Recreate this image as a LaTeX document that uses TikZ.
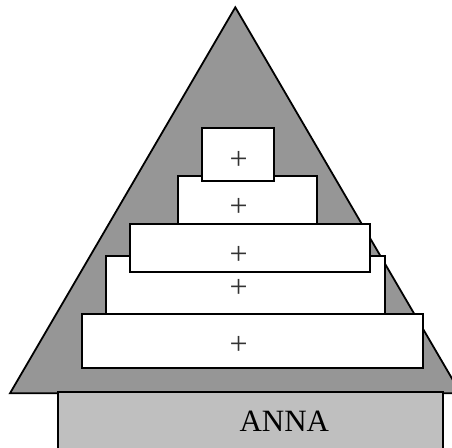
\documentclass[tikz,border=0pt]{standalone}
\usepackage{fontspec}
\setmainfont{Liberation Serif}
\begin{document}
\begin{tikzpicture}[x=1pt,y=-1pt,
  level/.style={draw=black,line width=1.8pt,fill=white,inner sep=0pt,rectangle},
  plussign/.style={inner sep=0pt,font=\fontsize{32}{32}\selectfont,text=black!80},
  roof/.style={draw=black,line width=1.8pt,fill=black!41},
  base/.style={draw=black,line width=1.8pt,fill=black!25}]
\useasboundingbox (0,0) rectangle (452,447);
\clip (0,0) rectangle (452,447);
\coordinate (apex) at (235.3,7.3);
\coordinate (bl) at (10,393.3);
\coordinate (br) at (460.6,393.3);
\draw[roof] (apex) -- (bl) -- (br) -- cycle;
\draw[base] (57.7,460) -- (57.7,392.3) -- (442.7,392.3) -- (442.7,460);
\node[font=\fontsize{31}{31}\selectfont,inner sep=0pt] (anna) at (284.3,421.7) {ANNA};
\node[level,minimum width=279,minimum height=58] (b4) at (245.5,285) {};
\node[level,minimum width=240.3,minimum height=48.6] (b3) at (250.2,248) {};
\node[level,minimum width=341.3,minimum height=54.3] (b5) at (252.7,340.8) {};
\node[level,minimum width=139.3,minimum height=48.6] (b2) at (247.7,200) {};
\node[level,minimum width=72.3,minimum height=53.3] (b1) at (238.2,154.3) {};
\node[plussign] (p1) at (238.7,160) {+};
\node[plussign] (p2) at (238.7,207.3) {+};
\node[plussign] (p3) at (238.7,255) {+};
\node[plussign] (p4) at (238.7,288.3) {+};
\node[plussign] (p5) at (238.7,345) {+};
\end{tikzpicture}
\end{document}
